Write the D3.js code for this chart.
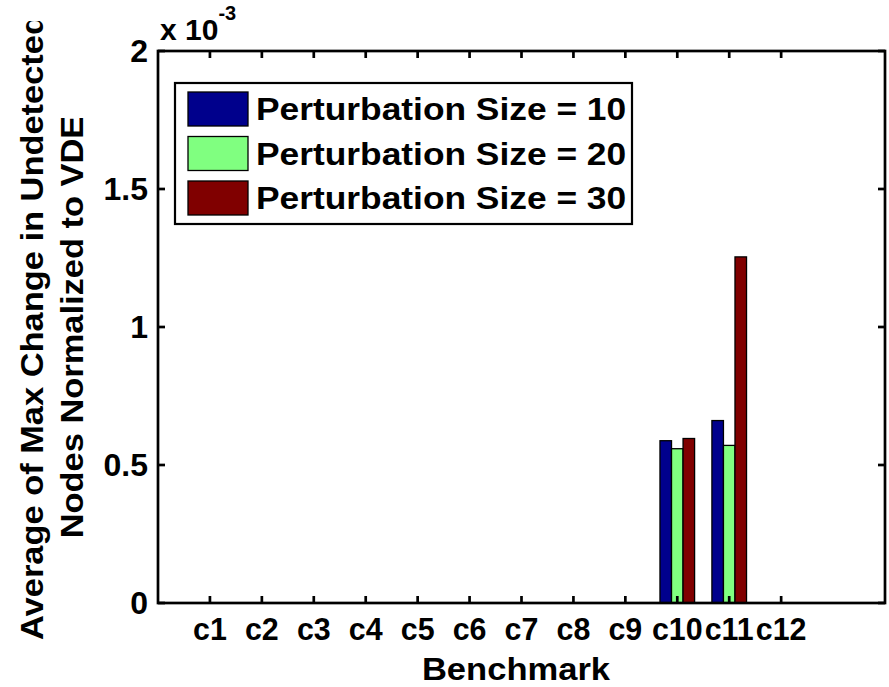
<!DOCTYPE html>
<html>
<head>
<meta charset="utf-8">
<script src="https://cdn.jsdelivr.net/npm/d3@7"></script>
<style>
  body { margin: 0; background: #fff; }
  text { font-family: "Liberation Sans", Arial, sans-serif; font-weight: bold; fill: #000; }
</style>
</head>
<body>
<script>
// benchmark names and series values (x 10^-3)
const benchmarks = ['c1', 'c2', 'c3', 'c4', 'c5', 'c6', 'c7', 'c8', 'c9', 'c10', 'c11', 'c12']
const size10 = [0, 0, 0, 0, 0, 0, 0, 0, 0, 0.588, 0.661, 0]
const size20 = [0, 0, 0, 0, 0, 0, 0, 0, 0, 0.559, 0.571, 0]
const size30 = [0, 0, 0, 0, 0, 0, 0, 0, 0, 0.596, 1.254, 0]
const seriesNames = ['Perturbation Size = 10', 'Perturbation Size = 20', 'Perturbation Size = 30']
const colors = ['#00008c', '#80ff80', '#800000']
const yTicks = [0, 0.5, 1, 1.5, 2]

const m = { width: 889, height: 687, left: 158, right: 885, top: 51, bottom: 603 }

const svg = d3.select('body').append('svg')
    .attr('width', m.width)
    .attr('height', m.height)

const x = d3.scaleLinear().domain([0, 14]).range([m.left, m.right])
const y = d3.scaleLinear().domain([0, 2]).range([m.bottom, m.top])

const series = [size10, size20, size30]
const barW = 2 / 9  // 3 bars filling 2/3 of a slot

const bars = svg.append('g')
series.forEach((vals, s) => {
    bars.selectAll('.bar' + s)
        .data(vals.map((v, i) => ({ i: i + 1, v: v })).filter(d => d.v > 0))
        .enter()
        .append('rect')
            .attr('x', d => x(d.i + (s - 1) * barW - barW / 2))
            .attr('width', x(barW) - x(0))
            .attr('y', d => y(d.v))
            .attr('height', d => y(0) - y(d.v))
            .attr('fill', colors[s])
            .attr('stroke', '#000')
            .attr('stroke-width', 1.3)
})

// axes box with inward ticks on all four sides
const tickLen = 7
const axisG = svg.append('g').attr('stroke', '#000').attr('stroke-width', 2.7).attr('fill', 'none')
axisG.append('rect')
    .attr('x', m.left).attr('y', m.top)
    .attr('width', m.right - m.left).attr('height', m.bottom - m.top)

benchmarks.forEach((b, i) => {
    const px = x(i + 1)
    axisG.append('line').attr('x1', px).attr('x2', px).attr('y1', m.bottom).attr('y2', m.bottom - tickLen)
    axisG.append('line').attr('x1', px).attr('x2', px).attr('y1', m.top).attr('y2', m.top + tickLen)
})
yTicks.forEach(t => {
    axisG.append('line').attr('x1', m.left).attr('x2', m.left + tickLen).attr('y1', y(t)).attr('y2', y(t))
    axisG.append('line').attr('x1', m.right).attr('x2', m.right - tickLen).attr('y1', y(t)).attr('y2', y(t))
})

// helper: text placed at (px, py), stretched along its reading direction
function label(parent, px, py, str, size, sx, anchor, rot) {
    return parent.append('text')
        .attr('transform', 'translate(' + px + ',' + py + ')' + (rot ? ' rotate(' + rot + ')' : '') + ' scale(' + sx + ',1)')
        .attr('text-anchor', anchor)
        .style('font-size', size + 'px')
        .text(str)
}

// tick labels
const xt = svg.append('g')
benchmarks.forEach((b, i) => label(xt, x(i + 1), 640, b, 32, 0.95, 'middle'))

const yt = svg.append('g')
yTicks.forEach(t => label(yt, m.left - 10, y(t) + 11, t, 32, 1, 'end'))

// exponent
const ex = svg.append('text').attr('x', 160).attr('y', 40).style('font-size', '30px')
ex.append('tspan').text('x 10')
ex.append('tspan').attr('dy', -20).style('font-size', '20px').text('-3')

// axis labels
label(svg, 516, 680, 'Benchmark', 32, 1.08, 'middle')

// the original y label is cut off at its top end
const defs = svg.append('defs')
defs.append('clipPath').attr('id', 'clip1').append('rect')
    .attr('x', 0).attr('y', 21).attr('width', 60).attr('height', 680)
defs.append('clipPath').attr('id', 'clip2').append('rect')
    .attr('x', 50).attr('y', 118).attr('width', 50).attr('height', 580)

const cy = (m.top + m.bottom) / 2
label(svg.append('g').attr('clip-path', 'url(#clip1)'), 43, cy,
    'Average of Max Change in Undetected', 32, 1.076, 'middle', -90)
label(svg.append('g').attr('clip-path', 'url(#clip2)'), 83, cy,
    'Nodes Normalized to VDE', 32, 1.076, 'middle', -90)

// legend
const legend = svg.append('g')
legend.append('rect')
    .attr('x', 175).attr('y', 83).attr('width', 457).attr('height', 141)
    .attr('fill', '#fff').attr('stroke', '#000').attr('stroke-width', 2.2)

const ly = d3.scaleLinear().domain([0, 2]).range([109, 198])
seriesNames.forEach((name, s) => {
    legend.append('rect')
        .attr('x', 188).attr('y', ly(s) - 17).attr('width', 60).attr('height', 34)
        .attr('fill', colors[s]).attr('stroke', '#000').attr('stroke-width', 1.3)
    label(legend, 256, ly(s) + 11, name, 31, 1.14, 'start')
})
</script>
</body>
</html>
